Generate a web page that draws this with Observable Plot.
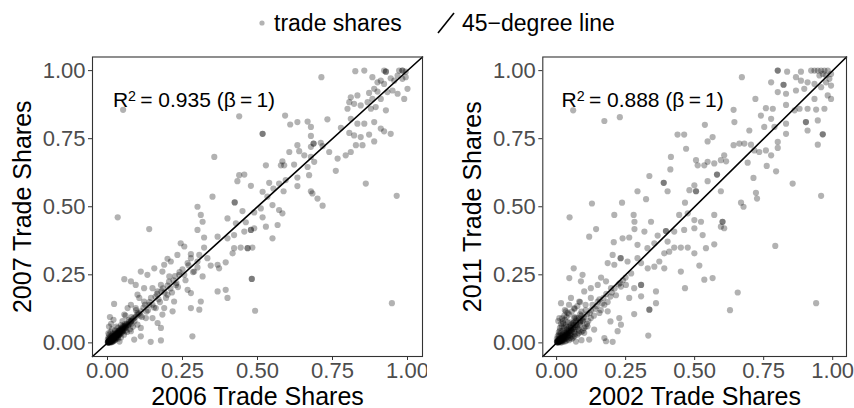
<!DOCTYPE html>
<html><head><meta charset="utf-8">
<script src="https://cdn.jsdelivr.net/npm/d3@7"></script>
<script src="https://cdn.jsdelivr.net/npm/@observablehq/plot@0.6"></script>
<style>
body{margin:0;background:#fff;font-family:"Liberation Sans",Arial,sans-serif;}
#wrap{position:relative;width:854px;height:408px;overflow:hidden;}
#legend{position:absolute;top:0;left:0;}
#left{position:absolute;top:50px;left:0;}
#right{position:absolute;top:50px;left:427px;}
</style></head><body>
<div id="wrap"><div id="legend"></div><div id="left"></div><div id="right"></div></div>
<script>
// ---- data ----
const tickValues = [0, 0.25, 0.5, 0.75, 1];
const axisLimits = [-0.05, 1.05];
const legendLabels = ["trade shares", "45\u2212degree line"];
const panelTitles = [
  {x: "2006 Trade Shares", y: "2007 Trade Shares", r2: "0.935"},
  {x: "2002 Trade Shares", y: "2011 Trade Shares", r2: "0.888"}
];
// [x share, y share]  2006 vs 2007
const shares2006vs2007 = [
[0.826,0.998],[0.856,1.000],[0.922,1.000],[0.928,0.996],[0.928,0.996],[0.972,1.000],[0.983,1.000],[0.983,1.000],[0.994,0.996],
[0.713,0.976],[0.883,0.976],[0.900,0.957],[0.911,0.963],[0.922,0.951],[0.944,0.972],[0.956,0.963],[0.967,0.982],[0.983,0.970],[0.994,0.976],
[1.000,0.933],[0.933,0.921],[0.950,0.927],[0.967,0.915],[0.989,0.896],[0.900,0.923],[0.889,0.933],[0.872,0.918],[0.811,0.902],[0.833,0.909],
[0.822,0.878],[0.800,0.860],[0.806,0.884],[0.844,0.872],[0.867,0.884],[0.878,0.860],[0.894,0.866],[0.928,0.854],[0.883,0.896],[0.911,0.896],
[0.052,0.856],[0.439,0.832],[0.592,0.835],[0.609,0.802],[0.633,0.811],[0.667,0.813],[0.733,0.821],[0.778,0.790],[0.811,0.823],[0.833,0.805],
[0.856,0.805],[0.889,0.811],[0.911,0.787],[0.922,0.777],[0.944,0.768],[0.517,0.768],[0.517,0.768],[0.678,0.793],[0.678,0.760],[0.806,0.771],
[0.822,0.762],[0.872,0.765],[0.844,0.756],[0.356,0.683],[0.606,0.701],[0.633,0.726],[0.639,0.704],[0.678,0.720],[0.687,0.732],[0.687,0.732],
[0.711,0.735],[0.717,0.723],[0.739,0.701],[0.767,0.677],[0.794,0.689],[0.811,0.701],[0.828,0.726],[0.850,0.726],[0.889,0.740],[0.656,0.689],
[0.678,0.683],[0.583,0.667],[0.578,0.652],[0.589,0.652],[0.528,0.652],[0.622,0.655],[0.667,0.646],[0.689,0.665],[0.761,0.632],[0.861,0.585],
[0.964,0.540],[0.439,0.616],[0.456,0.618],[0.433,0.594],[0.478,0.577],[0.517,0.555],[0.539,0.588],[0.553,0.567],[0.572,0.585],[0.594,0.598],
[0.587,0.557],[0.633,0.576],[0.633,0.607],[0.672,0.616],[0.678,0.557],[0.700,0.530],[0.683,0.549],[0.717,0.504],[0.533,0.537],[0.424,0.516],
[0.424,0.516],[0.350,0.537],[0.450,0.484],[0.489,0.479],[0.517,0.461],[0.550,0.506],[0.572,0.488],[0.583,0.476],[0.511,0.494],[0.300,0.500],
[0.311,0.470],[0.317,0.445],[0.400,0.457],[0.428,0.439],[0.461,0.443],[0.478,0.415],[0.478,0.415],[0.489,0.421],[0.528,0.427],[0.567,0.433],
[0.550,0.384],[0.456,0.409],[0.422,0.396],[0.400,0.384],[0.367,0.390],[0.467,0.348],[0.467,0.348],[0.444,0.350],[0.422,0.348],[0.483,0.350],
[0.417,0.329],[0.034,0.461],[0.139,0.418],[0.300,0.415],[0.322,0.387],[0.322,0.350],[0.306,0.323],[0.278,0.326],[0.244,0.366],[0.256,0.354],
[0.267,0.293],[0.300,0.299],[0.333,0.311],[0.300,0.277],[0.344,0.284],[0.367,0.287],[0.394,0.296],[0.372,0.274],[0.317,0.244],[0.289,0.262],
[0.278,0.311],[0.233,0.323],[0.211,0.299],[0.200,0.309],[0.189,0.287],[0.183,0.262],[0.206,0.244],[0.156,0.274],[0.133,0.250],[0.111,0.262],
[0.078,0.226],[0.056,0.234],[0.094,0.213],[0.122,0.201],[0.150,0.201],[0.178,0.213],[0.167,0.189],[0.200,0.177],[0.228,0.213],[0.239,0.250],
[0.256,0.250],[0.267,0.195],[0.278,0.183],[0.311,0.152],[0.306,0.122],[0.278,0.128],[0.222,0.152],[0.217,0.116],[0.189,0.128],[0.183,0.104],
[0.161,0.128],[0.139,0.140],[0.122,0.152],[0.106,0.165],[0.100,0.177],[0.078,0.140],[0.067,0.128],[0.022,0.143],[0.056,0.104],[0.094,0.128],
[0.111,0.116],[0.078,0.079],[0.100,0.067],[0.111,0.055],[0.128,0.091],[0.150,0.091],[0.167,0.073],[0.178,0.055],[0.078,0.043],[0.089,0.012],
[0.144,0.004],[0.178,0.009],[0.111,0.024],[0.283,0.024],[0.367,0.189],[0.394,0.195],[0.400,0.165],[0.481,0.235],[0.481,0.235],[0.492,0.118],
[0.948,0.146],
[0.002,0.001],[0.004,0.006],[0.006,0.003],[0.008,0.010],[0.010,0.007],[0.012,0.015],[0.014,0.011],[0.016,0.020],[0.018,0.014],[0.020,0.024],
[0.022,0.018],[0.024,0.028],[0.026,0.021],[0.028,0.033],[0.030,0.025],[0.032,0.036],[0.034,0.030],[0.036,0.042],[0.038,0.034],[0.040,0.046],
[0.042,0.038],[0.045,0.052],[0.048,0.043],[0.050,0.057],[0.053,0.048],[0.056,0.063],[0.060,0.055],[0.064,0.070],[0.068,0.062],[0.072,0.078],
[0.003,0.020],[0.006,0.030],[0.010,0.040],[0.015,0.050],[0.005,0.060],[0.012,0.070],[0.020,0.085],[0.008,0.095],[0.025,0.010],[0.035,0.015],
[0.045,0.020],[0.055,0.030],[0.065,0.040],[0.075,0.050],[0.085,0.060],[0.001,0.012],[0.013,0.002],[0.018,0.005],[0.003,0.035],[0.040,0.005],
[0.030,0.060],[0.050,0.080],[0.060,0.100],[0.080,0.095],[0.090,0.080],[0.100,0.110],[0.110,0.100],[0.120,0.130],[0.130,0.115],[0.140,0.150],
[0.150,0.140],[0.160,0.170],[0.170,0.160],[0.180,0.190],[0.190,0.185],[0.200,0.210],[0.210,0.200],[0.220,0.230],[0.230,0.220],[0.240,0.260],
[0.001,0.003],[0.003,0.002],[0.005,0.008],[0.007,0.005],[0.009,0.012],[0.011,0.009],[0.013,0.017],[0.015,0.013],[0.017,0.022],[0.019,0.017],
[0.021,0.026],[0.023,0.020],[0.025,0.031],[0.027,0.024],[0.029,0.035],[0.031,0.029],[0.033,0.039],[0.035,0.033],[0.037,0.044],[0.039,0.037],
[0.043,0.049],[0.047,0.045],[0.051,0.055],[0.055,0.052],[0.058,0.061],[0.062,0.058],[0.066,0.067],[0.070,0.066],[0.074,0.072],[0.078,0.080],
[0.082,0.083],[0.086,0.089],[0.090,0.093],[0.095,0.097],[0.100,0.104],[0.105,0.108],[0.010,0.002],[0.020,0.008],[0.005,0.015],[0.015,0.028],
[0.030,0.018],[0.040,0.030],[0.050,0.040],[0.025,0.045],[0.035,0.055],[0.045,0.065],[0.060,0.045],[0.070,0.085],[0.080,0.070],[0.095,0.120],
[0.115,0.095],[0.125,0.140],[0.135,0.120],[0.145,0.165],[0.155,0.130],[0.165,0.180],[0.175,0.150],[0.185,0.200],[0.195,0.165],[0.205,0.225],
[0.215,0.185],[0.225,0.245],[0.235,0.205],[0.250,0.270],[0.260,0.230],[0.270,0.285],[0.285,0.260],
[0.002,0.004],[0.004,0.001],[0.006,0.007],[0.008,0.004],[0.010,0.011],[0.012,0.006],[0.014,0.016],[0.016,0.010],[0.018,0.019],[0.020,0.014],
[0.024,0.024],[0.028,0.022],[0.032,0.031],[0.036,0.029],[0.040,0.040],[0.044,0.036],[0.048,0.050],[0.052,0.044],[0.056,0.058],[0.062,0.064],
[0.001,0.001],[0.003,0.005],[0.005,0.002],[0.007,0.008],[0.009,0.003],[0.011,0.013],[0.013,0.008],[0.015,0.018],[0.017,0.011],[0.019,0.021],
[0.022,0.015],[0.025,0.027],[0.027,0.019],[0.030,0.031],[0.033,0.024],[0.035,0.037],[0.038,0.029],[0.041,0.043],[0.044,0.034],[0.047,0.048],
[0.007,0.018],[0.012,0.025],[0.018,0.032],[0.024,0.038],[0.016,0.004],[0.022,0.009],[0.028,0.014],[0.034,0.020],[0.050,0.061],[0.058,0.069]
];
// [x share, y share]  2002 vs 2011
const shares2002vs2011 = [
[0.801,1.000],[0.801,1.000],[0.835,0.996],[0.885,0.996],[0.922,1.000],[0.934,1.000],[0.946,1.000],[0.958,1.000],[0.970,1.000],[0.982,1.000],
[0.964,0.988],[0.976,0.982],[0.988,0.970],[0.952,0.982],[0.994,0.988],[0.671,0.976],[0.777,0.957],[0.822,0.948],[0.822,0.948],[0.867,0.976],
[0.885,0.963],[0.909,0.957],[0.934,0.951],[0.958,0.939],[0.976,0.957],[0.994,0.945],[0.867,0.927],[0.897,0.933],[0.831,0.915],[0.801,0.921],
[0.982,0.909],[0.994,0.896],[0.934,0.896],[0.060,0.854],[0.173,0.815],[0.229,0.829],[0.641,0.856],[0.720,0.896],[0.758,0.862],[0.783,0.860],
[0.831,0.874],[0.862,0.854],[0.880,0.860],[0.909,0.860],[0.940,0.857],[0.970,0.860],[0.740,0.835],[0.777,0.823],[0.831,0.805],[0.903,0.811],
[0.903,0.811],[0.946,0.817],[0.537,0.801],[0.644,0.811],[0.698,0.780],[0.752,0.793],[0.789,0.793],[0.831,0.768],[0.909,0.780],[0.964,0.766],
[0.964,0.766],[0.438,0.765],[0.462,0.765],[0.565,0.756],[0.547,0.740],[0.469,0.713],[0.641,0.726],[0.662,0.732],[0.680,0.732],[0.704,0.728],
[0.716,0.707],[0.734,0.701],[0.758,0.707],[0.801,0.738],[0.777,0.689],[0.801,0.716],[0.946,0.728],[0.607,0.689],[0.595,0.671],[0.614,0.667],
[0.571,0.659],[0.547,0.665],[0.535,0.652],[0.511,0.652],[0.505,0.671],[0.414,0.683],[0.692,0.662],[0.761,0.650],[0.795,0.630],[0.581,0.618],
[0.581,0.618],[0.336,0.613],[0.412,0.637],[0.388,0.588],[0.388,0.588],[0.402,0.557],[0.481,0.561],[0.505,0.557],[0.505,0.557],[0.499,0.579],
[0.547,0.594],[0.595,0.557],[0.713,0.606],[0.855,0.585],[0.958,0.540],[0.293,0.557],[0.324,0.528],[0.237,0.515],[0.128,0.512],[0.465,0.515],
[0.722,0.551],[0.726,0.530],[0.668,0.515],[0.677,0.500],[0.047,0.461],[0.209,0.470],[0.279,0.470],[0.282,0.445],[0.342,0.445],[0.444,0.470],
[0.475,0.476],[0.499,0.451],[0.523,0.445],[0.571,0.470],[0.601,0.445],[0.601,0.445],[0.595,0.427],[0.607,0.421],[0.143,0.418],[0.282,0.418],
[0.318,0.409],[0.366,0.394],[0.396,0.411],[0.396,0.411],[0.426,0.409],[0.462,0.415],[0.499,0.421],[0.529,0.396],[0.118,0.390],[0.207,0.370],
[0.239,0.384],[0.263,0.387],[0.293,0.360],[0.329,0.348],[0.354,0.366],[0.402,0.372],[0.426,0.350],[0.450,0.350],[0.475,0.350],[0.499,0.329],
[0.541,0.348],[0.571,0.362],[0.792,0.356],[0.390,0.329],[0.408,0.335],[0.203,0.323],[0.232,0.311],[0.232,0.311],[0.185,0.293],[0.209,0.287],
[0.257,0.299],[0.293,0.311],[0.306,0.293],[0.330,0.274],[0.354,0.280],[0.372,0.299],[0.390,0.274],[0.450,0.262],[0.517,0.284],[0.062,0.274],
[0.094,0.250],[0.161,0.240],[0.179,0.226],[0.149,0.213],[0.124,0.201],[0.197,0.201],[0.233,0.207],[0.251,0.213],[0.281,0.201],[0.306,0.213],
[0.306,0.213],[0.360,0.189],[0.263,0.165],[0.306,0.171],[0.360,0.146],[0.336,0.122],[0.336,0.122],[0.281,0.106],[0.227,0.091],[0.195,0.079],
[0.535,0.232],[0.565,0.238],[0.465,0.201],[0.656,0.185],[0.628,0.120],[0.940,0.146],[0.332,0.027],[0.046,0.238],[0.088,0.226],[0.100,0.189],
[0.052,0.165],[0.016,0.146],[0.034,0.116],[0.064,0.128],[0.082,0.152],[0.124,0.165],[0.149,0.152],[0.173,0.140],[0.185,0.116],[0.155,0.110],
[0.124,0.091],[0.094,0.079],[0.064,0.091],[0.010,0.091],[0.022,0.079],[0.112,0.061],[0.136,0.049],[0.100,0.037],[0.118,0.012],[0.173,0.018],
[0.203,0.004],[0.179,0.006],[0.221,0.043],[0.233,0.067],[0.052,0.055],
[0.002,0.003],[0.005,0.001],[0.007,0.009],[0.010,0.004],[0.012,0.014],[0.015,0.008],[0.018,0.020],[0.020,0.012],[0.023,0.027],[0.026,0.016],
[0.030,0.034],[0.033,0.022],[0.036,0.040],[0.040,0.028],[0.044,0.048],[0.048,0.036],[0.052,0.056],[0.056,0.042],[0.060,0.064],[0.065,0.050],
[0.070,0.074],[0.075,0.058],[0.080,0.085],[0.085,0.066],[0.004,0.025],[0.008,0.040],[0.012,0.055],[0.016,0.070],[0.006,0.080],[0.020,0.090],
[0.028,0.100],[0.040,0.110],[0.030,0.005],[0.045,0.010],[0.060,0.020],[0.075,0.030],[0.090,0.040],[0.100,0.055],[0.110,0.070],[0.050,0.075],
[0.065,0.095],[0.085,0.105],[0.095,0.090],[0.105,0.120],[0.120,0.110],[0.130,0.140],[0.140,0.125],[0.155,0.160],[0.165,0.145],[0.180,0.180],
[0.195,0.170],[0.210,0.200],[0.225,0.215],[0.240,0.230],[0.001,0.015],[0.015,0.001],[0.035,0.060],[0.055,0.015],[0.070,0.005],[0.090,0.010],
[0.001,0.005],[0.004,0.002],[0.006,0.012],[0.009,0.007],[0.011,0.018],[0.014,0.010],[0.017,0.025],[0.019,0.015],[0.022,0.030],[0.025,0.020],
[0.028,0.038],[0.031,0.026],[0.034,0.045],[0.037,0.032],[0.040,0.052],[0.043,0.038],[0.047,0.060],[0.050,0.045],[0.054,0.068],[0.058,0.050],
[0.062,0.075],[0.066,0.058],[0.070,0.082],[0.075,0.065],[0.080,0.092],[0.085,0.075],[0.090,0.100],[0.095,0.082],[0.008,0.030],[0.012,0.045],
[0.018,0.060],[0.024,0.072],[0.030,0.085],[0.036,0.095],[0.045,0.105],[0.055,0.115],[0.065,0.125],[0.075,0.135],[0.020,0.003],[0.035,0.008],
[0.050,0.018],[0.065,0.025],[0.080,0.035],[0.095,0.045],[0.105,0.060],[0.115,0.080],[0.100,0.095],[0.110,0.105],[0.125,0.120],[0.135,0.100],
[0.145,0.135],[0.160,0.120],[0.170,0.165],[0.185,0.150],[0.200,0.185],[0.215,0.175],[0.230,0.220],[0.250,0.240],[0.270,0.255],[0.045,0.140],
[0.030,0.120],[0.085,0.150],[0.105,0.140],
[0.003,0.004],[0.005,0.009],[0.008,0.003],[0.010,0.012],[0.013,0.006],[0.016,0.018],[0.019,0.009],[0.022,0.022],[0.026,0.013],[0.030,0.028],
[0.034,0.018],[0.038,0.036],[0.042,0.025],[0.046,0.044],[0.052,0.032],[0.058,0.055],[0.064,0.040],[0.070,0.066],[0.078,0.052],[0.086,0.080],
[0.002,0.002],[0.004,0.007],[0.006,0.004],[0.009,0.010],[0.011,0.005],[0.014,0.015],[0.017,0.007],[0.020,0.019],[0.023,0.011],[0.027,0.024],
[0.031,0.015],[0.035,0.031],[0.039,0.021],[0.043,0.039],[0.048,0.028],[0.053,0.047],[0.010,0.025],[0.015,0.035],[0.021,0.045],[0.027,0.055],
[0.033,0.065],[0.040,0.075],[0.025,0.006],[0.040,0.013],[0.055,0.024],[0.068,0.034],[0.082,0.045],[0.060,0.072],[0.072,0.090],[0.090,0.115]
];

// ---- drawing ----
const FONT = "'Liberation Sans', Arial, sans-serif";
const fmt = d3.format(".2f");

function panel(pairs, titles, marginLeft, marginRight) {
  const svg = Plot.plot({
    width: 427, height: 358,
    marginTop: 6.5, marginBottom: 52, marginLeft, marginRight,
    x: {domain: axisLimits},
    y: {domain: axisLimits},
    style: {fontFamily: FONT, background: "white", overflow: "visible"},
    marks: [
      Plot.dot(pairs, {x: d => d[0], y: d => d[1], r: 3.1, fill: "black", fillOpacity: 0.3, stroke: null}),
      Plot.line(axisLimits, {x: d => d, y: d => d, stroke: "black", strokeWidth: 1.6}),
      Plot.text([titles.r2], {x: 0.018, y: 0.89, text: d => "R2|= " + d + " (\u03B2\u2009=\u20091)", textAnchor: "start", fontSize: 21, fill: "black", className: "r2note"}),
      Plot.frame({stroke: "#333", strokeWidth: 1.1}),
      Plot.axisX({ticks: tickValues, tickFormat: fmt, tickSize: 4, tickPadding: 2, fontSize: 22, stroke: "#333", fill: "#4d4d4d", label: null}),
      Plot.axisY({ticks: tickValues, tickFormat: fmt, tickSize: 4, tickPadding: 3, fontSize: 22, stroke: "#333", fill: "#4d4d4d", label: null}),
      Plot.text([titles.x], {frameAnchor: "bottom", text: d => d, textAnchor: "middle", lineAnchor: "bottom", dy: 48, fontSize: 25, fill: "black"}),
      Plot.text([titles.y], {frameAnchor: "left", text: d => d, textAnchor: "middle", rotate: -90, lineAnchor: "middle", dx: -70, fontSize: 25, fill: "black"})
    ]
  });
  // render the exponent of R2 as a real superscript
  d3.select(svg).selectAll("g.r2note text").each(function() {
    const t = d3.select(this);
    const parts = t.text().split("|");
    t.text(null);
    t.append("tspan").text(parts[0].slice(0, 1));
    t.append("tspan").attr("dy", "-0.42em").attr("font-size", "0.68em").text(parts[0].slice(1));
    t.append("tspan").attr("dy", "0.29em").text("\u2009" + parts[1]);
  });
  return svg;
}

document.getElementById("left").appendChild(panel(shares2006vs2007, panelTitles[0], 92, 5));
document.getElementById("right").appendChild(panel(shares2002vs2011, panelTitles[1], 115.3, 8));

// legend
const leg = d3.select("#legend").append("svg").attr("width", 854).attr("height", 50)
  .style("font-family", FONT);
leg.append("circle").attr("cx", 262).attr("cy", 23).attr("r", 2.6).attr("fill", "#b3b3b3");
leg.append("text").attr("x", 274).attr("y", 31).attr("font-size", 23).attr("fill", "black").text(legendLabels[0]);
leg.append("line").attr("x1", 438).attr("y1", 33).attr("x2", 454).attr("y2", 13).attr("stroke", "black").attr("stroke-width", 1.6);
leg.append("text").attr("x", 462).attr("y", 31).attr("font-size", 23).attr("fill", "black").text(legendLabels[1]);
</script>
</body></html>
